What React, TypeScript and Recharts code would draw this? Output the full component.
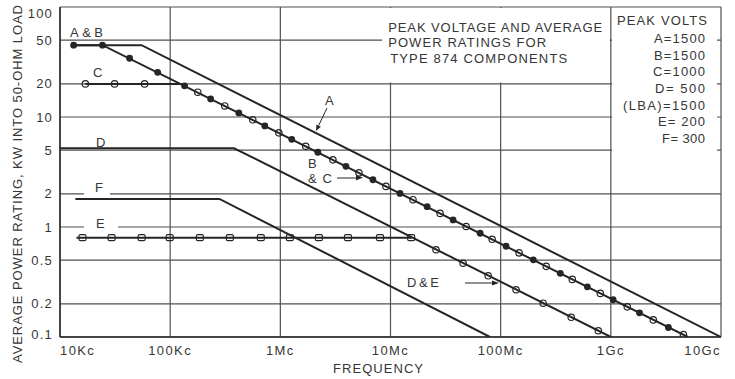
import { ComposedChart, Line, Scatter, XAxis, YAxis, CartesianGrid, ReferenceArea } from 'recharts'

const freqTicks = [1e4, 1e5, 1e6, 1e7, 1e8, 1e9, 1e10]
const freqLabels = ['10Kc', '100Kc', '1Mc', '10Mc', '100Mc', '1Gc', '10Gc']
const powerTicks = [0.1, 0.2, 0.5, 1, 2, 5, 10, 20, 50, 100]
const powerLabels = ['0.1', '0.2', '0.5', '1', '2', '5', '10', '20', '50', '100']

// rating curves, [frequency Hz, kW]
const curveA = [[13300, 45], [55000, 45], [1e10, 0.1]]
const curveB = [[13300, 45], [24300, 45], [5e9, 0.1]]
const curveC = [[17000, 20], [125000, 20]]
const curveD = [[10000, 5.2], [380000, 5.2], [1e9, 0.1]]
const curveE = [[14100, 0.8], [15600000, 0.8]]
const curveF = [[13800, 1.8], [280000, 1.8], [8e7, 0.1]]

// plotted points on the curves
const dotsB = [
    [13300, 45], [24300, 45], [42800, 34.2], [77000, 25.5], [135000, 19.2], [233000, 14.6], [420000, 10.9],
    [723000, 8.3], [1.27e6, 6.27], [2.19e6, 4.78], [3.94e6, 3.56], [6.93e6, 2.69], [1.22e7, 2.02], [2.15e7, 1.53],
    [3.7e7, 1.16], [6.51e7, 0.877], [1.12e8, 0.668], [1.98e8, 0.503], [3.48e8, 0.379], [6.12e8, 0.286],
    [1.05e9, 0.218], [1.82e9, 0.166], [3.33e9, 0.122],
]
const dotsC = [
    [17000, 20], [31300, 20], [58600, 20], [178000, 16.8], [313000, 12.6], [562000, 9.43], [969000, 7.18],
    [1.7e6, 5.42], [3e6, 4.08], [5.17e6, 3.11], [9.1e6, 2.34], [1.6e7, 1.77], [2.82e7, 1.33], [4.86e7, 1.01],
    [8.37e7, 0.773], [1.47e8, 0.582], [2.59e8, 0.439], [4.47e8, 0.334], [8.03e8, 0.249], [1.41e9, 0.188],
    [2.43e9, 0.143], [4.56e9, 0.105],
]
const squaresE = [
    [16000, 0.8], [29400, 0.8], [55100, 0.8], [99000, 0.8], [186000, 0.8], [348000, 0.8], [665000, 0.8],
    [1.22e6, 0.8], [2.24e6, 0.8], [4.11e6, 0.8], [8.03e6, 0.8], [1.54e7, 0.8],
]
const dotsDE = [
    [2.59e7, 0.621], [4.56e7, 0.468], [7.7e7, 0.36], [1.38e8, 0.269], [2.43e8, 0.203], [4.37e8, 0.151], [7.7e8, 0.114],
]

const titleLines = ['PEAK VOLTAGE AND AVERAGE', 'POWER RATINGS FOR', 'TYPE 874 COMPONENTS']
const titleWidth = [214, 158, 177]
const peakVolts = ['A=1500', 'B=1500', 'C=1000', 'D= 500', '(LBA)=1500', 'E= 200', 'F= 300']
const peakVoltsWidth = [51, 51, 52, 50, 82, 47, 43]

const ink = '#252525'
const gridInk = '#505050'
const textInk = '#363636'
const font = '"Liberation Sans", Arial, sans-serif'

const pts = (arr: number[][]) => arr.map(([f, p]) => ({ f, p }))

const FreqTick = (props: any) => {
    const { x, y, payload } = props
    const i = freqTicks.indexOf(payload.value)
    const anchor = i === 0 ? 'start' : i === freqTicks.length - 1 ? 'end' : 'middle'
    return (
        <text x={x} y={y + 10} textAnchor={anchor} fontSize={13} letterSpacing={1.4} fill={textInk} fontFamily={font}>
            {freqLabels[i]}
        </text>
    )
}

const PowerTick = (props: any) => {
    const { x, y, payload } = props
    const i = powerTicks.indexOf(payload.value)
    const shift = i === powerTicks.length - 1 ? 6 : i === 0 ? -3 : 0
    return (
        <text x={x + 1} y={y + 4.5 + shift} textAnchor="end" fontSize={13} letterSpacing={1.2} fill={textInk} fontFamily={font}>
            {powerLabels[i]}
        </text>
    )
}

const filledDot = (props: any) => <circle cx={props.cx} cy={props.cy} r={3.4} fill={ink} />
const openDot = (props: any) => <circle cx={props.cx} cy={props.cy} r={3.2} fill="none" stroke={ink} strokeWidth={1.2} />
const openSquare = (props: any) => (
    <rect x={props.cx - 3.5} y={props.cy - 3} width={7} height={6} rx={1.5} fill="none" stroke={ink} strokeWidth={1.2} />
)

const T = ({ x, y, len, anchor = 'start', size = 13, children }: any) => (
    <text x={x} y={y} textLength={len} lengthAdjust="spacing" textAnchor={anchor} fontSize={size} fill={textInk} fontFamily={font}>
        {children}
    </text>
)

const TitleBox = (props: any) => {
    const { x, y } = props.viewBox
    return (
        <g>
            {titleLines.map((s, i) => (
                <T key={s} x={x + 6 + (i === 2 ? 2 : 0)} y={y + 24 + i * 15.5} len={titleWidth[i]}>{s}</T>
            ))}
        </g>
    )
}

const PeakBox = (props: any) => {
    const { x, y } = props.viewBox
    return (
        <g>
            <T x={x + 5} y={y + 17} len={90}>PEAK VOLTS</T>
            {peakVolts.map((s, i) => (
                <T key={s} x={x + 93} y={y + 35 + i * 16.7} len={peakVoltsWidth[i]} anchor="end">{s}</T>
            ))}
        </g>
    )
}

const Notes = () => (
    <g>
        {/* gaps in the grid behind labels */}
        <rect x={84} y={191} width={26} height={5} fill="#fff" />
        <rect x={84} y={223} width={34} height={5} fill="#fff" />

        <text transform="rotate(-90)" x={-184} y={22} textAnchor="middle" textLength={358} lengthAdjust="spacing"
            fontSize={13} fill={textInk} fontFamily={font}>
            AVERAGE POWER RATING, KW INTO 50-OHM LOAD
        </text>
        <T x={378} y={373} len={90} anchor="middle">FREQUENCY</T>

        <T x={70} y={37} len={33}>A&amp;B</T>
        <T x={93} y={77} len={9}>C</T>
        <T x={96} y={147} len={9}>D</T>
        <T x={95} y={192} len={8}>F</T>
        <T x={96} y={228} len={8}>E</T>

        <T x={325} y={105} len={8}>A</T>
        <line x1={327} y1={108} x2={318.6} y2={125.6} stroke={ink} strokeWidth={1} />
        <polygon points="316,131 320.9,126.7 316.4,124.5" fill={ink} />

        <T x={308} y={168} len={9}>B</T>
        <T x={308} y={183} len={24}>&amp; C</T>
        <line x1={337} y1={178} x2={357} y2={178} stroke={ink} strokeWidth={1} />
        <polygon points="363,177.5 356,175 356,180.5" fill={ink} />

        <T x={407} y={287} len={32}>D &amp; E</T>
        <line x1={465} y1={283} x2={493} y2={283} stroke={ink} strokeWidth={1} />
        <polygon points="499,283 492,280.5 492,285.5" fill={ink} />
    </g>
)

export default function App() {
    return (
        <div style={{ position: 'absolute', left: 0, top: 0, width: 735, height: 379, background: '#fff' }}>
            <ComposedChart width={735} height={379} margin={{ top: 7, right: 14, left: 0, bottom: 0 }}>
                <CartesianGrid stroke={gridInk} strokeWidth={1.2} />
                <XAxis
                    dataKey="f"
                    type="number"
                    scale="log"
                    domain={[1e4, 1e10]}
                    ticks={freqTicks}
                    allowDataOverflow
                    height={42}
                    tickLine={false}
                    axisLine={{ stroke: ink, strokeWidth: 1.4 }}
                    tick={<FreqTick />}
                    interval={0}
                />
                <YAxis
                    dataKey="p"
                    type="number"
                    scale="log"
                    domain={[0.1, 100]}
                    ticks={powerTicks}
                    allowDataOverflow
                    width={60}
                    tickLine={false}
                    axisLine={{ stroke: ink, strokeWidth: 1.4 }}
                    tick={<PowerTick />}
                    interval={0}
                />

                <ReferenceArea x1={8.4e6} x2={0.98e9} y1={20.6} y2={98} fill="#fff" fillOpacity={1} stroke="none"
                    label={<TitleBox />} />
                <ReferenceArea x1={1.025e9} x2={0.92e10} y1={3} y2={98} fill="#fff" fillOpacity={1} stroke="none"
                    label={<PeakBox />} />

                <Line data={pts(curveA)} dataKey="p" stroke={ink} strokeWidth={2} dot={false} isAnimationActive={false} />
                <Line data={pts(curveB)} dataKey="p" stroke={ink} strokeWidth={2} dot={false} isAnimationActive={false} />
                <Line data={pts(curveC)} dataKey="p" stroke={ink} strokeWidth={2} dot={false} isAnimationActive={false} />
                <Line data={pts(curveD)} dataKey="p" stroke={ink} strokeWidth={2} dot={false} isAnimationActive={false} />
                <Line data={pts(curveE)} dataKey="p" stroke={ink} strokeWidth={2} dot={false} isAnimationActive={false} />
                <Line data={pts(curveF)} dataKey="p" stroke={ink} strokeWidth={2} dot={false} isAnimationActive={false} />

                <Scatter data={pts(dotsB)} dataKey="p" shape={filledDot} isAnimationActive={false} />
                <Scatter data={pts(dotsC)} dataKey="p" shape={openDot} isAnimationActive={false} />
                <Scatter data={pts(squaresE)} dataKey="p" shape={openSquare} isAnimationActive={false} />
                <Scatter data={pts(dotsDE)} dataKey="p" shape={openDot} isAnimationActive={false} />

                <Notes />
            </ComposedChart>
        </div>
    )
}
